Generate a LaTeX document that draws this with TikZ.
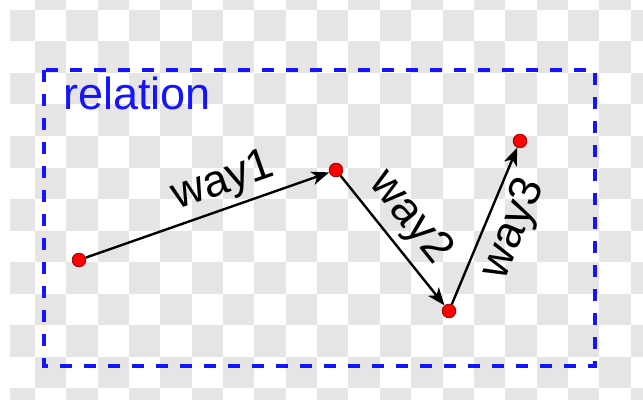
\documentclass[tikz,border=0pt]{standalone}
\usepackage{fontspec}
\setmainfont{Liberation Sans}
\usetikzlibrary{arrows.meta}
\definecolor{relblue}{RGB}{20,20,255}
\definecolor{ptred}{RGB}{255,0,0}
\definecolor{checkgray}{RGB}{229,229,229}

\begin{document}
\begin{tikzpicture}[x=0.025cm, y=-0.025cm,
  dot/.style={circle, fill=ptred, draw=ptred!60!black, line width=0.6pt,
    minimum size=0.34cm, inner sep=0pt},
  way/.style={-{Stealth[length=4.4mm, width=3.4mm, inset=1.2mm]}, line width=1.7pt, black},
  lbl/.style={font=\fontsize{32}{38}\selectfont, sloped, inner sep=0.3em},
  relframe/.style={draw=relblue, line width=2.6pt, dash pattern=on 0.3cm off 0.3cm}
]
\useasboundingbox (0,0) rectangle (643,400);

% Checkerboard background
\begin{scope}
  \clip (10,0) rectangle (643,400);
  \foreach \r in {-1,...,12}
    \foreach \c in {0,...,20} {
      \pgfmathtruncatemacro{\odd}{mod(\r+\c+2,2)}
      \ifnum\odd=0
        \fill[checkgray] ({3.6+31.35*\c},{10+31.5*\r}) rectangle +(31.35,31.5);
      \fi
    }
\end{scope}

% Relation frame
\coordinate (fnw) at (44,70);
\coordinate (fse) at (595,366);
\draw[relframe] (fnw) rectangle (fse);
\node[anchor=base west, inner sep=0pt, text=relblue,
  font=\fontsize{32}{38}\selectfont] (rel) at (63,110) {relation};

% Points
\node[dot] (p1) at (79,260) {};
\node[dot] (p2) at (336,170) {};
\node[dot] (p3) at (449,311) {};
\node[dot] (p4) at (520,141) {};

% Ways
\draw[way] (p1) -- node[lbl, above, pos=0.6] (w1) {way1} (p2);
\draw[way] (p2) -- node[lbl, above, pos=0.46, inner sep=0.45em] (w2) {way2} (p3);
\draw[way] (p3) -- node[lbl, below, pos=0.55, inner sep=0.5em] (w3) {way3} (p4);

\end{tikzpicture}
\end{document}
